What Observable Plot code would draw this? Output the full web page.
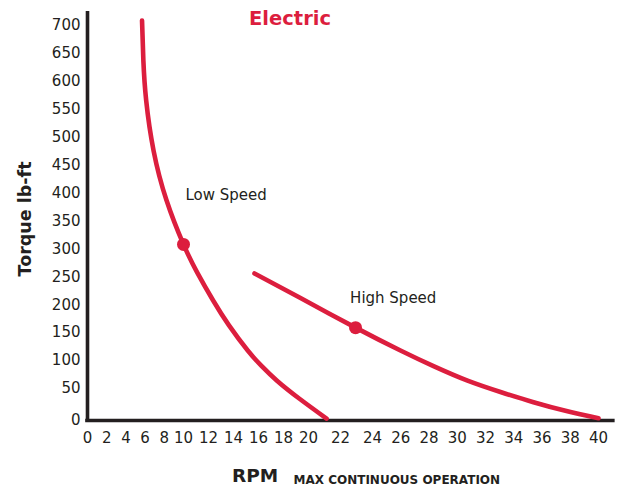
<!DOCTYPE html>
<html>
<head>
<meta charset="utf-8">
<script src="https://cdn.jsdelivr.net/npm/d3@7"></script>
<script src="https://cdn.jsdelivr.net/npm/@observablehq/plot@0.6"></script>
<style>
  html, body { margin: 0; padding: 0; background: #fff; }
  #chart { width: 621px; height: 487px; }
</style>
</head>
<body>
<div id="chart"></div>
<script>
// ---- data ----
const title = "Electric";
const yLabel = "Torque lb-ft";
const xLabel = "RPM";
const xNote = "MAX CONTINUOUS OPERATION";

const xTicks = [0, 2, 4, 6, 8, 10, 12, 14, 16, 18, 20, 22, 24, 26, 28, 30, 32, 34, 36, 38, 40];
const yTicks = [0, 50, 100, 150, 200, 250, 300, 350, 400, 450, 500, 550, 600, 650, 700];

const lowRpm    = [5.68, 5.82, 6.11, 6.88, 8.23, 10, 11.09, 12.36, 13.64, 15.14, 16.22, 17.48, 19.28, 21.13];
const lowTorque = [709, 637, 566, 476, 387, 308, 258, 208, 163, 118, 91, 64, 34, 3];

const highRpm    = [15.68, 19.36, 22.94, 25.98, 28.32, 30.73, 33.06, 35.4, 37.66, 40];
const highTorque = [256, 212, 159, 118, 90, 64, 44.5, 28.6, 15.2, 3.5];

const seriesNames = ["Low Speed", "High Speed"];
const markerRpm    = [10, 22.94];
const markerTorque = [308, 159];
const labelRpm     = [10.16, 22.6];
const labelTorque  = [397, 211];

// ---- build tables ----
const curves = [
  ...lowRpm.map((x, i) => ({series: seriesNames[0], rpm: x, torque: lowTorque[i]})),
  ...highRpm.map((x, i) => ({series: seriesNames[1], rpm: x, torque: highTorque[i]}))
];
const markers = seriesNames.map((s, i) => ({series: s, rpm: markerRpm[i], torque: markerTorque[i]}));
const labels = seriesNames.map((s, i) => ({series: s, rpm: labelRpm[i], torque: labelTorque[i]}));

const RED = "#dc1e3e";
const INK = "#231f20";
const FONT = "DejaVu Sans";

const chart = Plot.plot({
  width: 621,
  height: 487,
  marginLeft: 88,
  marginRight: 6,
  marginTop: 25,
  marginBottom: 67,
  style: {fontFamily: FONT, color: INK, background: "#fff", overflow: "visible"},
  x: {type: "linear", domain: [0, 10, 20, 24, 40], range: [87, 183, 308, 372, 598]},
  y: {type: "linear", domain: [0, 50, 700], range: [420, 388, 25]},
  marks: [
    Plot.axisX(xTicks, {tickSize: 0, tickPadding: 12, fontSize: 15, fill: INK, label: null}),
    Plot.axisY(yTicks, {tickSize: 0, tickPadding: 8, fontSize: 15, fill: INK, label: null}),
    Plot.ruleX([0], {y1: 0, y2: 722, stroke: INK, strokeWidth: 3.6, strokeLinecap: "square"}),
    Plot.ruleY([0], {x1: 0, x2: 41.05, stroke: INK, strokeWidth: 3.6, strokeLinecap: "square"}),
    Plot.line(curves, {x: "rpm", y: "torque", z: "series", stroke: RED, strokeWidth: 4.6,
      curve: "natural", strokeLinecap: "round"}),
    Plot.dot(markers, {x: "rpm", y: "torque", r: 6.5, fill: RED}),
    Plot.text(labels, {x: "rpm", y: "torque", text: "series", textAnchor: "start",
      fontSize: 15, fill: INK}),
    Plot.text([title], {frameAnchor: "top", lineAnchor: "middle", textAnchor: "middle",
      dx: -62, dy: -7, fontSize: 19.5, fontWeight: "bold", fill: RED}),
    Plot.text([yLabel], {frameAnchor: "left", lineAnchor: "middle", textAnchor: "middle",
      dx: -63, dy: -4, rotate: -90, fontSize: 17.5, fontWeight: "bold", fill: INK}),
    Plot.text([xLabel], {frameAnchor: "bottom-left", lineAnchor: "middle", textAnchor: "start",
      dx: 143.5, dy: 55.5, fontSize: 18.5, fontWeight: "bold", fill: INK}),
    Plot.text([xNote], {frameAnchor: "bottom-left", lineAnchor: "middle", textAnchor: "start",
      dx: 205, dy: 59.5, fontSize: 12, fontWeight: "bold", fill: INK})
  ]
});
document.getElementById("chart").appendChild(chart);
</script>
</body>
</html>
